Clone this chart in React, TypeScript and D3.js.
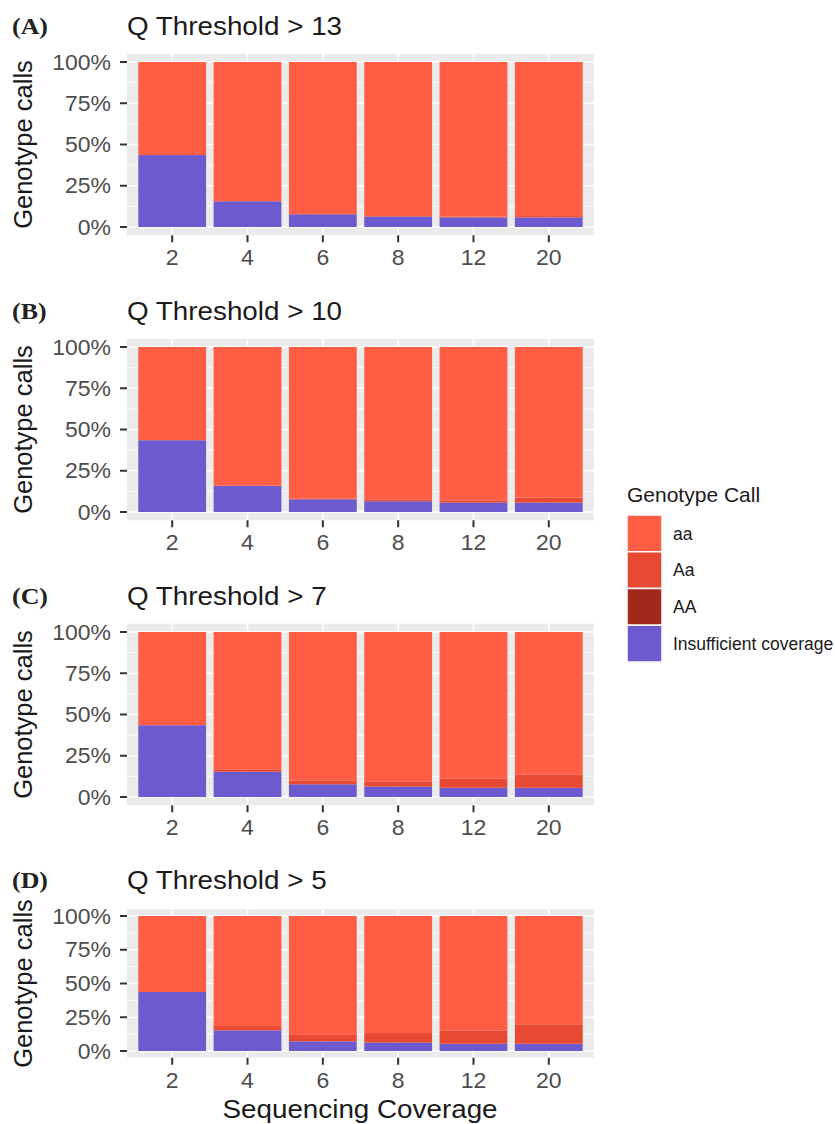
import React from "react";
import * as d3 from "d3";

// categories and series
const coverages = ["2", "4", "6", "8", "12", "20"];
const calls = ["aa", "Aa", "AA", "Insufficient coverage"];
const callColors = ["#FF5E45", "#E84932", "#A3281C", "#6E5ACF"];

const thresholds = ["13", "10", "7", "5"];
const panelLetters = ["(A)", "(B)", "(C)", "(D)"];

// percent of calls per coverage, one array per panel
const insufficientA = [43.6, 15.6, 7.7, 6.3, 5.8, 5.8];
const hetA = [0, 0, 0.2, 0.3, 0.5, 0.8];
const insufficientB = [43.5, 15.8, 7.7, 6.5, 5.7, 5.7];
const hetB = [0, 0.2, 0.5, 0.9, 1.3, 3.0];
const insufficientC = [43.5, 15.3, 7.7, 6.3, 5.6, 5.6];
const hetC = [0, 1.5, 2.2, 3.2, 5.5, 8.1];
const insufficientD = [43.7, 15.3, 7.2, 6.2, 5.4, 5.4];
const hetD = [0, 3.2, 5.2, 7.1, 9.9, 14.4];
const homAltAll = [0, 0, 0, 0, 0, 0];

const yTicks = [0, 0.25, 0.5, 0.75, 1];
const yTickLabels = ["0%", "25%", "50%", "75%", "100%"];

const panelData = [
  [insufficientA, hetA],
  [insufficientB, hetB],
  [insufficientC, hetC],
  [insufficientD, hetD],
];

const panelTops = [62, 347, 632, 916];
const panelHeights = [165, 165, 165, 135];

const FONT = "'Liberation Sans', Arial, sans-serif";
// the reference is slightly stretched sideways
const SX = 1.07;

const Panel = ({ idx }: { idx: number }) => {
  const top = panelTops[idx];
  const h = panelHeights[idx];
  const y = d3
    .scaleLinear()
    .domain([-0.05, 1.05])
    .range([top + h + h * 0.05, top - h * 0.05]);
  const x = d3
    .scaleBand()
    .domain(coverages)
    .range([127, 594])
    .paddingInner(0.1)
    .paddingOuter(0.15);

  const [ins, het] = panelData[idx];
  const rows = coverages.map((c, i) => ({
    cov: c,
    "Insufficient coverage": ins[i] / 100,
    AA: homAltAll[i] / 100,
    Aa: het[i] / 100,
    aa: 1 - (ins[i] + het[i] + homAltAll[i]) / 100,
  }));
  const stack = d3
    .stack<any>()
    .keys(["Insufficient coverage", "AA", "Aa", "aa"]);
  const series = stack(rows);
  const color = d3.scaleOrdinal<string, string>().domain(calls).range(callColors);

  const [y0, y1] = y.range();
  const minor = [0.125, 0.375, 0.625, 0.875];

  return (
    <g>
      <text
        transform={`translate(12, ${top - 28}) scale(1.08, 1)`}
        fontFamily="'Liberation Serif', 'Times New Roman', serif"
        fontWeight="bold"
        fontSize={24}
        fill="#222"
      >
        {panelLetters[idx]}
      </text>
      <text
        transform={`translate(127, ${top - 27}) scale(${SX}, 1)`}
        fontFamily={FONT}
        fontSize={26}
        fill="#1a1a1a"
      >
        {`Q Threshold > ${thresholds[idx]}`}
      </text>
      <rect x={127} y={y1} width={467} height={y0 - y1} fill="#EBEBEB" />
      {minor.map((t) => (
        <line key={"m" + t} x1={127} x2={594} y1={y(t)} y2={y(t)} stroke="#fff" strokeWidth={0.8} />
      ))}
      {yTicks.map((t) => (
        <line key={"g" + t} x1={127} x2={594} y1={y(t)} y2={y(t)} stroke="#fff" strokeWidth={1.6} />
      ))}
      {coverages.map((c) => (
        <line key={"v" + c} x1={x(c)! + x.bandwidth() / 2} x2={x(c)! + x.bandwidth() / 2} y1={y1} y2={y0} stroke="#fff" strokeWidth={1.6} />
      ))}
      {series.map((s) => (
        <g key={s.key} fill={color(s.key)}>
          {s.map((d, i) => (
            <rect
              key={i}
              x={x(d.data.cov)}
              width={x.bandwidth()}
              y={y(d[1])}
              height={Math.max(0, y(d[0]) - y(d[1]))}
            />
          ))}
        </g>
      ))}
      {yTicks.map((t, i) => (
        <g key={"yt" + t}>
          <line x1={120} x2={127} y1={y(t)} y2={y(t)} stroke="#333" strokeWidth={2} />
          <text
            transform={`translate(111, ${y(t)}) scale(${SX}, 1)`}
            dy="0.36em"
            textAnchor="end"
            fontFamily={FONT}
            fontSize={21.5}
            fill="#4d4d4d"
          >
            {yTickLabels[i]}
          </text>
        </g>
      ))}
      {coverages.map((c) => (
        <g key={"xt" + c}>
          <line x1={x(c)! + x.bandwidth() / 2} x2={x(c)! + x.bandwidth() / 2} y1={y0} y2={y0 + 7} stroke="#333" strokeWidth={2} />
          <text
            transform={`translate(${x(c)! + x.bandwidth() / 2}, ${y0 + 30}) scale(${SX}, 1)`}
            textAnchor="middle"
            fontFamily={FONT}
            fontSize={21.5}
            fill="#4d4d4d"
          >
            {c}
          </text>
        </g>
      ))}
      <text
        transform={`translate(32, ${top + h / 2}) rotate(-90)`}
        textAnchor="middle"
        fontFamily={FONT}
        fontSize={25.5}
        fill="#1a1a1a"
      >
        Genotype calls
      </text>
    </g>
  );
};

const Legend = () => {
  const keyY = d3.scaleBand().domain(calls).range([515, 662]);
  const color = d3.scaleOrdinal<string, string>().domain(calls).range(callColors);
  return (
    <g>
      <text x={627} y={502} fontFamily={FONT} fontSize={21} fill="#1a1a1a">
        Genotype Call
      </text>
      {calls.map((c) => (
        <g key={c}>
          <rect x={627} y={keyY(c)} width={35} height={keyY.bandwidth()} fill={color(c)} stroke="#fff" strokeWidth={1.5} />
          <text x={673} y={keyY(c)! + keyY.bandwidth() / 2} dy="0.36em" fontFamily={FONT} fontSize={17.5} fill="#1a1a1a">
            {c}
          </text>
        </g>
      ))}
    </g>
  );
};

export default function App() {
  return (
    <svg
      width={835}
      height={1124}
      style={{ position: "absolute", left: 0, top: 0, background: "#fff" }}
    >
      <rect width={835} height={1124} fill="#fff" />
      {thresholds.map((_, i) => (
        <Panel key={i} idx={i} />
      ))}
      <Legend />
      <text
        transform={`translate(360, 1118) scale(${SX}, 1)`}
        textAnchor="middle"
        fontFamily={FONT}
        fontSize={26}
        fill="#1a1a1a"
      >
        Sequencing Coverage
      </text>
    </svg>
  );
}
